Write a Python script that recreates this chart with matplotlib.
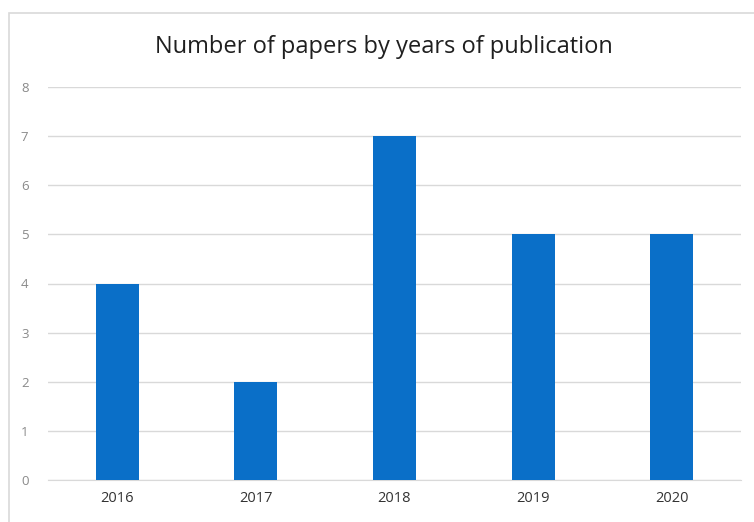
import matplotlib
matplotlib.use("Agg")
import matplotlib.pyplot as plt
from matplotlib.patches import Rectangle

years = ["2016", "2017", "2018", "2019", "2020"]
papers = [4, 2, 7, 5, 5]
y_ticks = [0, 1, 2, 3, 4, 5, 6, 7, 8]

plt.rcParams["font.family"] = ["Open Sans", "DejaVu Sans"]

W, H = 754, 522
fig = plt.figure(figsize=(W / 100, H / 100), dpi=100)
fig.patch.set_facecolor("white")

# chart frame
fig.patches.append(Rectangle((9 / W, -0.1), 1.2, 1.1 - 13 / H,
                             transform=fig.transFigure, fill=False,
                             edgecolor="#d9d9d9", linewidth=1.2))

left, right = 48 / W, 741 / W
bottom, top = 1 - 480 / H, 1 - 87 / H
ax = fig.add_axes([left, bottom, right - left, top - bottom])

x = list(range(len(years)))
ax.bar(x, papers, width=0.31, color="#0a6fc8", zorder=3)

ax.set_xlim(-0.5, len(years) - 0.5)
ax.set_ylim(0, 8)
ax.set_yticks(y_ticks)
ax.set_yticklabels([str(v) for v in y_ticks])
ax.set_xticks(x)
ax.set_xticklabels(years)

ax.grid(axis="y", color="#d9d9d9", linewidth=1.0, zorder=0)
for s in ["top", "right", "left"]:
    ax.spines[s].set_visible(False)
ax.spines["bottom"].set_color("#d9d9d9")
ax.tick_params(axis="both", length=0)
ax.tick_params(axis="y", pad=14, labelsize=9.5, labelcolor="#8a8a8a")
ax.tick_params(axis="x", pad=8, labelsize=10.5, labelcolor="#333333")

fig.text(384 / W, 1 - 53 / H, "Number of papers by years of publication",
         ha="center", va="baseline", fontsize=17, color="#1f1f1f")

fig.savefig("out.png", dpi=100, facecolor="white")
